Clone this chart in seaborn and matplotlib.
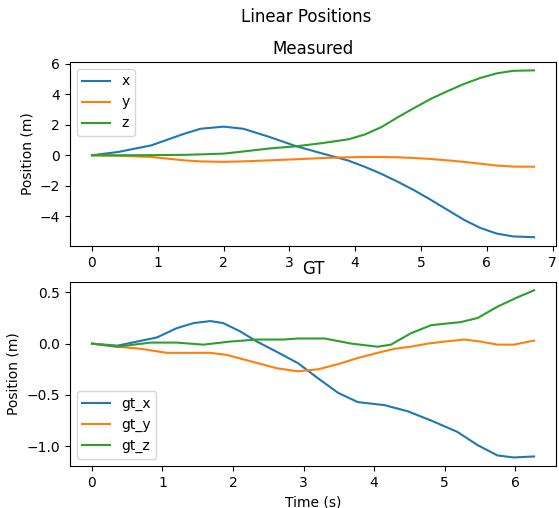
import matplotlib
matplotlib.use("Agg")
import matplotlib.pyplot as plt
import seaborn as sns

# measured positions
t_meas = [0, 0.4, 0.9, 1.4, 1.65, 2.0, 2.3, 2.7, 3.1, 3.5, 3.9, 4.15, 4.4, 4.65, 4.9,
          5.15, 5.4, 5.65, 5.9, 6.15, 6.4, 6.72]
x_meas = [0, 0.22, 0.65, 1.41, 1.74, 1.88, 1.74, 1.2, 0.6, 0.12, -0.35, -0.76, -1.22, -1.74,
          -2.3, -2.92, -3.57, -4.22, -4.76, -5.13, -5.32, -5.37]
y_meas = [0, -0.03, -0.11, -0.33, -0.4, -0.43, -0.4, -0.33, -0.26, -0.18, -0.13, -0.11, -0.11,
          -0.13, -0.18, -0.24, -0.33, -0.43, -0.55, -0.67, -0.74, -0.75]
z_meas = [0, 0, 0.01, 0.03, 0.06, 0.11, 0.25, 0.45, 0.59, 0.8, 1.05, 1.37, 1.85, 2.5, 3.11,
          3.7, 4.2, 4.67, 5.07, 5.37, 5.54, 5.57]

# ground truth
gtx_t = [0, 0.36, 0.64, 0.92, 1.2, 1.44, 1.68, 1.86, 2.1, 2.34, 2.62, 2.92, 3.21, 3.49, 3.77,
         4.15, 4.48, 4.81, 5.18, 5.47, 5.75, 5.98, 6.27]
gt_x = [0, -0.02, 0.02, 0.06, 0.15, 0.2, 0.22, 0.2, 0.12, 0.02, -0.08, -0.19, -0.34, -0.48,
        -0.57, -0.6, -0.66, -0.75, -0.86, -0.99, -1.09, -1.11, -1.1]
gty_t = [0, 0.36, 0.69, 1.06, 1.3, 1.68, 1.91, 2.24, 2.62, 2.92, 3.21, 3.49, 3.77, 4.05, 4.29,
         4.52, 4.76, 5.0, 5.28, 5.51, 5.75, 5.98, 6.27]
gt_y = [0, -0.03, -0.05, -0.09, -0.09, -0.09, -0.11, -0.17, -0.24, -0.27, -0.25, -0.2, -0.14,
        -0.09, -0.05, -0.03, 0.0, 0.02, 0.04, 0.02, -0.01, -0.01, 0.03]
gtz_t = [0, 0.36, 0.83, 1.2, 1.58, 1.96, 2.34, 2.72, 2.92, 3.3, 3.68, 4.05, 4.24, 4.52, 4.81,
         5.23, 5.47, 5.75, 6.03, 6.27]
gt_z = [0, -0.03, 0.01, 0.01, -0.01, 0.02, 0.04, 0.04, 0.05, 0.05, 0.0, -0.03, -0.01, 0.1,
        0.18, 0.21, 0.25, 0.36, 0.45, 0.52]

fig, (ax1, ax2) = plt.subplots(2, 1, figsize=(5.59, 5.08), dpi=100)
fig.subplots_adjust(left=0.125, right=0.995, top=0.878, bottom=0.083, hspace=0.196)

sns.lineplot(x=t_meas, y=x_meas, ax=ax1, label="x")
sns.lineplot(x=t_meas, y=y_meas, ax=ax1, label="y")
sns.lineplot(x=t_meas, y=z_meas, ax=ax1, label="z")
ax1.set_title("Measured")
ax1.set_ylabel("Position (m)")
ax1.set_yticks([-4, -2, 0, 2, 4, 6])
ax1.set_ylim(-5.94, 6.12)
ax1.legend(loc="upper left")

sns.lineplot(x=gtx_t, y=gt_x, ax=ax2, label="gt_x")
sns.lineplot(x=gty_t, y=gt_y, ax=ax2, label="gt_y")
sns.lineplot(x=gtz_t, y=gt_z, ax=ax2, label="gt_z")
ax2.set_title("GT")
ax2.set_xlabel("Time (s)")
ax2.set_ylabel("Position (m)")
ax2.legend(loc="lower left")

fig.suptitle("Linear Positions", x=0.547, y=0.985)
fig.savefig("out.png")
